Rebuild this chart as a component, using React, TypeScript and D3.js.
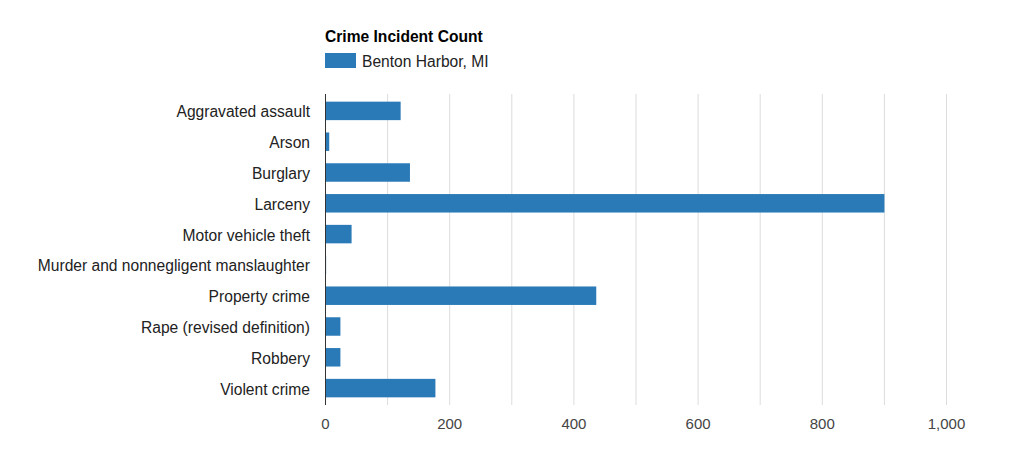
import React from "react";
import { scaleLinear, scaleBand, format } from "d3";

const categories = [
  "Aggravated assault",
  "Arson",
  "Burglary",
  "Larceny",
  "Motor vehicle theft",
  "Murder and nonnegligent manslaughter",
  "Property crime",
  "Rape (revised definition)",
  "Robbery",
  "Violent crime",
];
const counts = [121, 6, 136, 900, 42, 1, 436, 24, 24, 177];
const gridTicks = [0, 100, 200, 300, 400, 500, 600, 700, 800, 900, 1000];
const labelTicks = [0, 200, 400, 600, 800, 1000];
const seriesName = "Benton Harbor, MI";
const chartTitle = "Crime Incident Count";

const W = 1024;
const H = 455;
const font = "Arial, 'Liberation Sans', sans-serif";

const App = () => {
  const x = scaleLinear().domain([0, 1000]).range([325.5, 946.5]);
  const y = scaleBand().domain(categories).range([95.5, 403.5]).paddingInner(0.4).paddingOuter(0.2);
  const fmt = format(",");

  return (
    <svg width={W} height={H} style={{ position: "absolute", left: 0, top: 0 }} fontFamily={font}>
      <rect width={W} height={H} fill="#fff" />
      {/* title + legend */}
      <text x={325} y={41.5} fontSize={15.6} fontWeight="bold" fill="#000">{chartTitle}</text>
      <rect x={325} y={53} width={31} height={15} fill="#2a7ab8" />
      <text x={362} y={66.5} fontSize={15.6} fill="#222">{seriesName}</text>

      {/* gridlines */}
      {gridTicks.slice(1).map((t) => (
        <line key={t} x1={x(t)} x2={x(t)} y1={94} y2={405} stroke="#dcdcdc" strokeWidth={1} />
      ))}

      {/* bars */}
      {categories.map((c, i) => (
        <rect key={c} x={x(0)} y={y(c)} width={x(counts[i]) - x(0)} height={y.bandwidth()} fill="#2a7ab8" />
      ))}

      {/* axis line */}
      <line x1={x(0)} x2={x(0)} y1={94} y2={405} stroke="#333" strokeWidth={1} />

      {/* category labels */}
      {categories.map((c) => (
        <text key={c} x={310} y={(y(c) ?? 0) + y.bandwidth() / 2 + 1} dy="0.35em" textAnchor="end" fontSize={15.6} fill="#222">
          {c}
        </text>
      ))}

      {/* x tick labels */}
      {labelTicks.map((t) => (
        <text key={t} x={x(t)} y={428.5} textAnchor="middle" fontSize={15} fill="#444">
          {fmt(t)}
        </text>
      ))}
    </svg>
  );
};

export default App;
